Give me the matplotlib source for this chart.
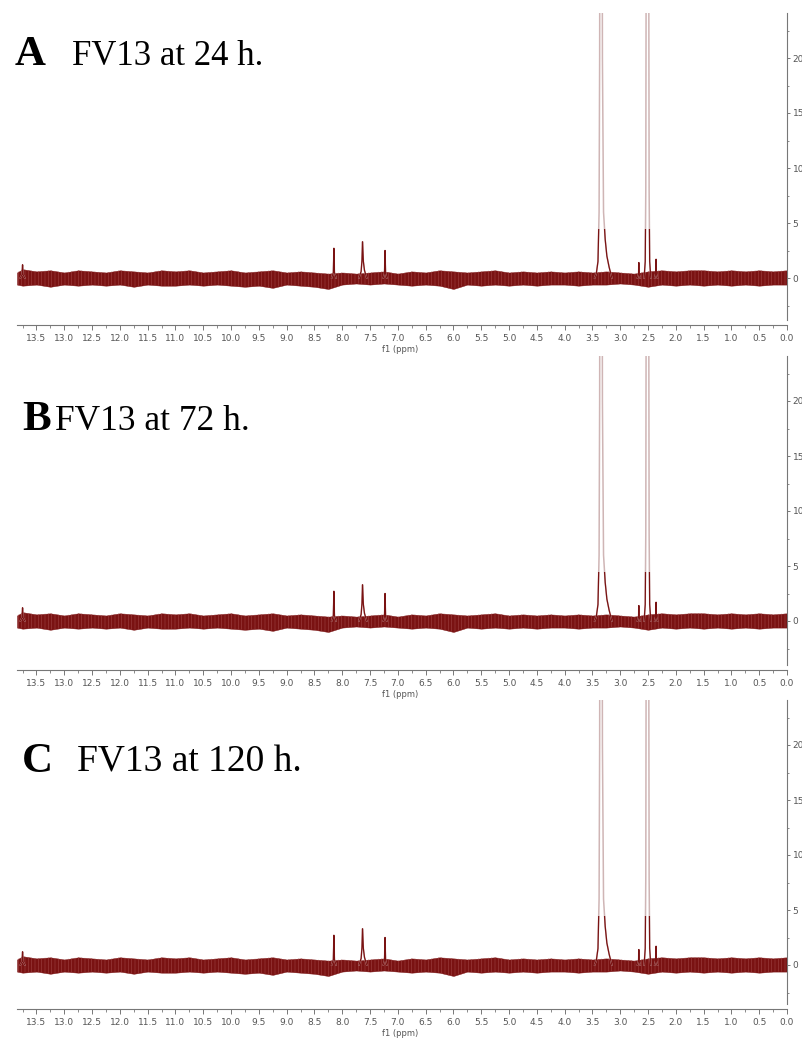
import numpy as np
import matplotlib.pyplot as plt
from matplotlib.patches import Rectangle
from matplotlib.ticker import MultipleLocator, FormatStrFormatter

# panel captions
panel_letters = ['A', 'B', 'C']
panel_texts = ['FV13 at 24 h.', 'FV13 at 72 h.', 'FV13 at 120 h.']

# baseline noise band (ppm, upper / lower edge), read every 0.25 ppm
band_ppm = [13.85, 13.75, 13.5, 13.25, 13.0, 12.75, 12.5, 12.25, 12.0, 11.75, 11.5, 11.25,
            11.0, 10.75, 10.5, 10.25, 10.0, 9.75, 9.5, 9.25, 9.0, 8.75, 8.5, 8.25, 8.0,
            7.75, 7.5, 7.25, 7.0, 6.75, 6.5, 6.25, 6.0, 5.75, 5.5, 5.25, 5.0, 4.75, 4.5,
            4.25, 4.0, 3.75, 3.5, 3.25, 3.0, 2.75, 2.5, 2.25, 2.0, 1.75, 1.5, 1.25, 1.0,
            0.75, 0.5, 0.25, 0.0]
band_upper = [0.5, 0.8, 0.6, 0.7, 0.5, 0.7, 0.6, 0.5, 0.7, 0.6, 0.5, 0.7,
              0.6, 0.7, 0.5, 0.6, 0.7, 0.5, 0.6, 0.7, 0.5, 0.6, 0.5, 0.4, 0.5,
              0.4, 0.5, 0.6, 0.4, 0.6, 0.5, 0.7, 0.6, 0.5, 0.6, 0.7, 0.5, 0.6, 0.5,
              0.6, 0.5, 0.6, 0.5, 0.6, 0.5, 0.4, 0.6, 0.7, 0.6, 0.7, 0.7, 0.6, 0.7,
              0.6, 0.7, 0.6, 0.7]
band_lower = [-0.6, -0.7, -0.6, -0.8, -0.6, -0.7, -0.6, -0.7, -0.6, -0.8, -0.6, -0.7,
              -0.7, -0.6, -0.7, -0.6, -0.7, -0.8, -0.7, -0.9, -0.6, -0.7, -0.8, -1.0, -0.6,
              -0.5, -0.6, -0.5, -0.6, -0.7, -0.6, -0.7, -1.0, -0.6, -0.7, -0.6, -0.7, -0.6, -0.7,
              -0.6, -0.6, -0.7, -0.6, -0.6, -0.5, -0.6, -0.8, -0.6, -0.7, -0.6, -0.7, -0.6, -0.7,
              -0.6, -0.7, -0.6, -0.6]

# peak profiles (ppm, intensity)
edge_ppm = [13.79, 13.76, 13.75, 13.74, 13.71]
edge_int = [0.0, 0.3, 1.2, 0.3, 0.0]
h815_ppm = [8.19, 8.16, 8.15, 8.14, 8.11]
h815_int = [0.0, 0.5, 2.7, 0.5, 0.0]
h763_ppm = [7.70, 7.66, 7.645, 7.635, 7.62, 7.60, 7.56]
h763_int = [0.0, 0.6, 1.6, 3.3, 1.5, 0.7, 0.0]
h723_ppm = [7.26, 7.24, 7.23, 7.22, 7.20]
h723_int = [0.0, 0.4, 2.5, 0.4, 0.0]
water_ppm = [3.46, 3.43, 3.40, 3.38, 3.37, 3.365, 3.345, 3.325, 3.32, 3.30, 3.27, 3.24, 3.20, 3.15]
water_int = [0.0, 0.4, 1.5, 6.0, 20.0, 40.0, 300.0, 40.0, 20.0, 6.0, 3.5, 2.0, 1.0, 0.0]
h266_ppm = [2.69, 2.67, 2.665, 2.66, 2.64]
h266_int = [0.0, 0.4, 1.4, 0.4, 0.0]
dmso_ppm = [2.57, 2.55, 2.54, 2.535, 2.525, 2.51, 2.495, 2.485, 2.48, 2.47, 2.45]
dmso_int = [0.0, 1.5, 8.0, 24.0, 100.0, 400.0, 100.0, 24.0, 8.0, 1.5, 0.0]
h235_ppm = [2.38, 2.36, 2.355, 2.35, 2.33]
h235_int = [0.0, 0.4, 1.7, 0.4, 0.0]

peaks = [(edge_ppm, edge_int), (h815_ppm, h815_int), (h763_ppm, h763_int),
         (h723_ppm, h723_int), (water_ppm, water_int), (h266_ppm, h266_int),
         (dmso_ppm, dmso_int), (h235_ppm, h235_int)]

W, H = 803, 1038
dark = '#7a1212'
pale = '#cfb5b5'
axis_col = '#777777'
label_col = '#555555'

plt.rcParams['hatch.linewidth'] = 0.35

fig = plt.figure(figsize=(W / 100, H / 100), dpi=100)

# pixel layout of each panel
ax_left, ax_right = 17, 787
ax_tops = [13, 356, 700]
ax_bottoms = [325, 670, 1009]
zero_px = [278, 621, 965]
px_per_unit = 11.0
letter_x = [15, 22, 22]
text_x = [72, 55, 77]
cap_base = [65, 430, 772]
text_sizes = [25, 25.5, 27]

for i in range(3):
    top, bot = ax_tops[i], ax_bottoms[i]
    ax = fig.add_axes([ax_left / W, 1 - bot / H, (ax_right - ax_left) / W, (bot - top) / H])

    ax.fill_between(band_ppm, band_lower, band_upper, color=dark, lw=0.3, edgecolor=dark)
    ax.fill_between(band_ppm, band_lower, band_upper, facecolor='none',
                    edgecolor='#a34a4a', hatch='|||||', lw=0)
    for ppm, inten in peaks:
        ax.plot(ppm, inten, color=pale, lw=1.1)
        ln, = ax.plot(ppm, inten, color=dark, lw=0.9)
        clip = Rectangle((-1, -10), 16, 14.5, transform=ax.transData)
        ln.set_clip_path(clip)

    ax.set_xlim(13.85, 0)
    ax.set_ylim((zero_px[i] - bot) / px_per_unit, (zero_px[i] - top) / px_per_unit)

    for s in ['top', 'left']:
        ax.spines[s].set_visible(False)
    ax.spines['bottom'].set_color(axis_col)
    ax.spines['right'].set_color(axis_col)
    ax.spines['bottom'].set_linewidth(0.8)
    ax.spines['right'].set_linewidth(0.8)
    ax.spines['right'].set_bounds((zero_px[i] - bot + 5) / px_per_unit,
                                  (zero_px[i] - top) / px_per_unit)

    ax.xaxis.set_major_locator(MultipleLocator(0.5))
    ax.xaxis.set_minor_locator(MultipleLocator(0.25))
    ax.xaxis.set_major_formatter(FormatStrFormatter('%.1f'))
    ax.yaxis.set_major_locator(MultipleLocator(5))
    ax.yaxis.set_minor_locator(MultipleLocator(2.5))
    ax.yaxis.tick_right()
    ax.tick_params(axis='x', which='major', length=3.5, width=0.7, color=axis_col,
                   labelsize=6.5, labelcolor=label_col, pad=3)
    ax.tick_params(axis='x', which='minor', length=2, width=0.6, color=axis_col)
    ax.tick_params(axis='y', which='major', length=2.5, width=0.7, color=axis_col,
                   labelsize=6.5, labelcolor=label_col, pad=1.5)
    ax.tick_params(axis='y', which='minor', length=1.5, width=0.6, color=axis_col)
    ax.set_yticks([0, 5, 10, 15, 20])
    ax.set_yticklabels(['0', '5', '10', '15', '20'])

    ax.annotate('f1 (ppm)', xy=(6.96, 0), xycoords=('data', 'axes fraction'),
                xytext=(0, -17.3), textcoords='offset points',
                ha='center', va='center', fontsize=6.0, color=label_col)

    fig.text(letter_x[i] / W, 1 - cap_base[i] / H, panel_letters[i],
             family='Liberation Serif', weight='bold', fontsize=31, va='baseline')
    fig.text(text_x[i] / W, 1 - cap_base[i] / H, panel_texts[i],
             family='Liberation Serif', fontsize=text_sizes[i], va='baseline')

fig.savefig('out.png', dpi=100)
